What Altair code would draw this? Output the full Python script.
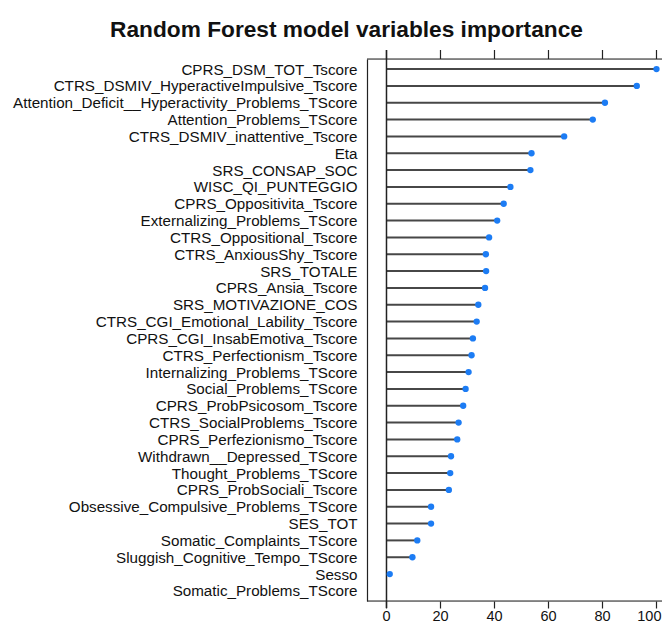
import altair as alt
import pandas as pd

variables = [
    "CPRS_DSM_TOT_Tscore",
    "CTRS_DSMIV_HyperactiveImpulsive_Tscore",
    "Attention_Deficit__Hyperactivity_Problems_TScore",
    "Attention_Problems_TScore",
    "CTRS_DSMIV_inattentive_Tscore",
    "Eta",
    "SRS_CONSAP_SOC",
    "WISC_QI_PUNTEGGIO",
    "CPRS_Oppositivita_Tscore",
    "Externalizing_Problems_TScore",
    "CTRS_Oppositional_Tscore",
    "CTRS_AnxiousShy_Tscore",
    "SRS_TOTALE",
    "CPRS_Ansia_Tscore",
    "SRS_MOTIVAZIONE_COS",
    "CTRS_CGI_Emotional_Lability_Tscore",
    "CPRS_CGI_InsabEmotiva_Tscore",
    "CTRS_Perfectionism_Tscore",
    "Internalizing_Problems_TScore",
    "Social_Problems_TScore",
    "CPRS_ProbPsicosom_Tscore",
    "CTRS_SocialProblems_Tscore",
    "CPRS_Perfezionismo_Tscore",
    "Withdrawn__Depressed_TScore",
    "Thought_Problems_TScore",
    "CPRS_ProbSociali_Tscore",
    "Obsessive_Compulsive_Problems_TScore",
    "SES_TOT",
    "Somatic_Complaints_TScore",
    "Sluggish_Cognitive_Tempo_TScore",
    "Sesso",
    "Somatic_Problems_TScore",
]
importance = [100, 92.7, 80.9, 76.4, 65.8, 53.7, 53.3, 45.9, 43.4, 41.0,
              38.0, 36.8, 36.9, 36.5, 34.0, 33.4, 32.0, 31.5, 30.4, 29.3,
              28.4, 26.7, 26.2, 23.9, 23.6, 23.1, 16.5, 16.5, 11.4, 9.6,
              1.2, 0.0]
tick_values = [0, 20, 40, 60, 80, 100]

df = pd.DataFrame({"variable": variables, "importance": importance,
                   "zero": [0] * len(variables)})
dots = df[df["importance"] > 0]
ticks = pd.DataFrame({"t": tick_values, "label": [str(v) for v in tick_values]})
inner_ticks = ticks[ticks["t"] < 100]
last_tick = ticks[ticks["t"] >= 100]
zero_df = pd.DataFrame({"t": [0]})

W = 295
H = 542
FONT = "Liberation Sans"

xscale = alt.Scale(domain=[-7.22, 102.04], nice=False, zero=False)
yscale = alt.Scale(type="point", padding=0.6, domain=variables)

stems = alt.Chart(df).mark_rule(color="#474747", strokeWidth=2).encode(
    y=alt.Y("variable:N", scale=yscale, sort=variables,
            axis=alt.Axis(title=None, ticks=False, domain=True, domainColor="#222",
                          domainWidth=1.2, labelFont=FONT, labelFontSize=15.2,
                          labelColor="#111", labelPadding=10, labelLimit=400)),
    x=alt.X("zero:Q", scale=xscale,
            axis=alt.Axis(title=None, values=tick_values, domain=False, grid=False,
                          tickSize=7, tickColor="#222", tickWidth=1.2,
                          labels=False)),
    x2="importance:Q",
)

points = alt.Chart(dots).mark_circle(color="#1C7CF4", opacity=1, size=40).encode(
    y=alt.Y("variable:N", scale=yscale, sort=variables),
    x=alt.X("importance:Q", scale=xscale),
)

tick_labels = alt.Chart(inner_ticks).mark_text(
    font=FONT, fontSize=14.5, color="#111", align="center", baseline="top"
).encode(
    x=alt.X("t:Q", scale=xscale),
    y=alt.value(H + 9),
    text="label:N",
)
last_label = alt.Chart(last_tick).mark_text(
    font=FONT, fontSize=14.5, color="#111", align="right", baseline="top", dx=5
).encode(
    x=alt.X("t:Q", scale=xscale),
    y=alt.value(H + 9),
    text="label:N",
)

top_ticks = alt.Chart(ticks).mark_rule(color="#222", strokeWidth=1.2).encode(
    x=alt.X("t:Q", scale=xscale),
    y=alt.value(-9),
    y2=alt.value(0),
)

zero_line = alt.Chart(zero_df).mark_rule(color="#222", strokeWidth=1.5).encode(
    x=alt.X("t:Q", scale=xscale),
    y=alt.value(-9),
    y2=alt.value(H + 7),
)

top_border = alt.Chart(zero_df).mark_rule(color="#222", strokeWidth=1.2).encode(
    x=alt.value(0), x2=alt.value(W), y=alt.value(0)
)
bottom_border = alt.Chart(zero_df).mark_rule(color="#222", strokeWidth=1.2).encode(
    x=alt.value(0), x2=alt.value(W), y=alt.value(H)
)

chart = alt.layer(
    stems, top_ticks, zero_line, top_border, bottom_border, points,
    tick_labels, last_label
).properties(
    width=W,
    height=H,
    title=alt.Title(
        "Random Forest model variables importance",
        font=FONT, fontSize=22.7, fontWeight="bold", color="#111",
        anchor="middle", dx=-168, dy=26, baseline="alphabetic", offset=16,
    ),
    autosize=alt.AutoSizeParams(type="none"),
    padding={"left": 359, "top": 51, "right": 0, "bottom": 23},
).configure_view(stroke=None).configure(background="white")

chart.save("out.html", embed_options={"renderer": "svg", "actions": False})
